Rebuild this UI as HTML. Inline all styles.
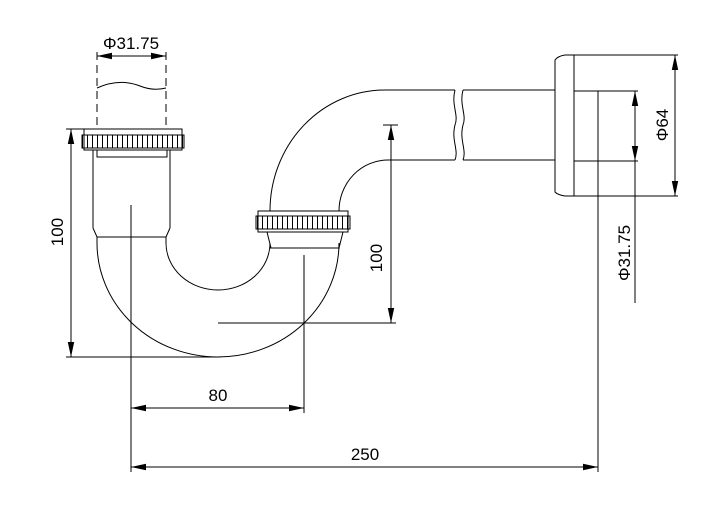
<!DOCTYPE html>
<html><head><meta charset="utf-8"><style>
html,body{margin:0;padding:0;background:#fff;}
svg{display:block;}
text{font-family:"Liberation Sans",sans-serif;font-size:17px;fill:#000;}
</style></head><body>
<svg width="720" height="508" viewBox="0 0 720 508" xmlns="http://www.w3.org/2000/svg">
<defs>
<pattern id="kn" x="0" y="0" width="5" height="20" patternUnits="userSpaceOnUse">
<line x1="2.5" y1="0" x2="2.5" y2="20" stroke="#000" stroke-width="1"/>
</pattern>
<marker id="ar" viewBox="0 0 14 6" refX="14" refY="3" markerWidth="15" markerHeight="7" orient="auto-start-reverse" markerUnits="userSpaceOnUse">
<path d="M0,0 L14,3 L0,6 Z" fill="#000"/>
</marker>
</defs>
<g fill="none" stroke="#000" stroke-width="1">
<line x1="97" y1="52" x2="97" y2="130" stroke-dasharray="8,5"/>
<line x1="166" y1="52" x2="166" y2="130" stroke-dasharray="8,5"/>
<path d="M97,88 C115,80 130,82 140,86 C150,90 158,90 166,88"/>
<line x1="97" y1="56" x2="166" y2="56" marker-start="url(#ar)" marker-end="url(#ar)"/>
<rect x="84" y="129" width="98" height="21" fill="#fff"/>
<rect x="82" y="135" width="102" height="13" fill="url(#kn)"/>
<rect x="97" y="150" width="70" height="7"/>
<line x1="93" y1="150" x2="93" y2="228"/>
<line x1="170" y1="150" x2="170" y2="228"/>
<path d="M93,228 L97,237 M170,228 L166,237"/>
<line x1="97" y1="237" x2="166" y2="237"/>
<path d="M97,237 L97,243 A121,114 0 0 0 339,243 L339,249"/>
<path d="M166,237 L166,243 A52,47 0 0 0 270,243 L270,249"/>
<path d="M271,248 L267,232 M339,248 L343,232"/>
<line x1="271" y1="248" x2="339" y2="248"/>
<rect x="258" y="211" width="90" height="21" fill="#fff"/>
<rect x="256" y="216" width="94" height="13" fill="url(#kn)"/>
<path d="M270,211 A115,121 0 0 1 385,90 L455,90"/>
<path d="M339,211 A49,51 0 0 1 388,160 L455,160"/>
<path d="M455,90 C451,105 459,115 455,125 C451,140 459,150 455,160"/>
<path d="M463,90 C459,105 467,115 463,125 C459,140 467,150 463,160"/>
<line x1="463" y1="90" x2="555" y2="90"/>
<line x1="463" y1="160" x2="555" y2="160"/>
<path d="M574,55 L565,55 Q558,56 555,60 L555,192 Q558,195 565,196 L574,196"/>
<line x1="574" y1="55" x2="574" y2="196"/>
<line x1="574" y1="55" x2="678" y2="55"/>
<line x1="574" y1="196" x2="678" y2="196"/>
<line x1="574" y1="91" x2="638" y2="91"/>
<line x1="574" y1="161" x2="638" y2="161"/>
<line x1="675" y1="55" x2="675" y2="196" marker-start="url(#ar)" marker-end="url(#ar)"/>
<line x1="635" y1="91" x2="635" y2="161" marker-start="url(#ar)" marker-end="url(#ar)"/>
<line x1="635" y1="161" x2="635" y2="303"/>
<line x1="598" y1="91" x2="598" y2="472"/>
<line x1="66" y1="129" x2="84" y2="129"/>
<line x1="66" y1="357" x2="220" y2="357"/>
<line x1="71" y1="129" x2="71" y2="357" marker-start="url(#ar)" marker-end="url(#ar)"/>
<line x1="131" y1="205" x2="131" y2="472"/>
<line x1="304" y1="255" x2="304" y2="413"/>
<line x1="131" y1="408" x2="304" y2="408" marker-start="url(#ar)" marker-end="url(#ar)"/>
<line x1="131" y1="467" x2="598" y2="467" marker-start="url(#ar)" marker-end="url(#ar)"/>
<line x1="383" y1="125" x2="398" y2="125"/>
<line x1="218" y1="323" x2="396" y2="323"/>
<line x1="391" y1="125" x2="391" y2="323" marker-start="url(#ar)" marker-end="url(#ar)"/>
</g>
<text x="131" y="49" text-anchor="middle">Φ31.75</text>
<text x="218" y="401" text-anchor="middle">80</text>
<text x="365" y="460" text-anchor="middle">250</text>
<text transform="translate(63,232) rotate(-90)" text-anchor="middle">100</text>
<text transform="translate(382,258) rotate(-90)" text-anchor="middle">100</text>
<text transform="translate(668,125) rotate(-90)" text-anchor="middle">Φ64</text>
<text transform="translate(630,253) rotate(-90)" text-anchor="middle">Φ31.75</text>
</svg>
</body></html>
